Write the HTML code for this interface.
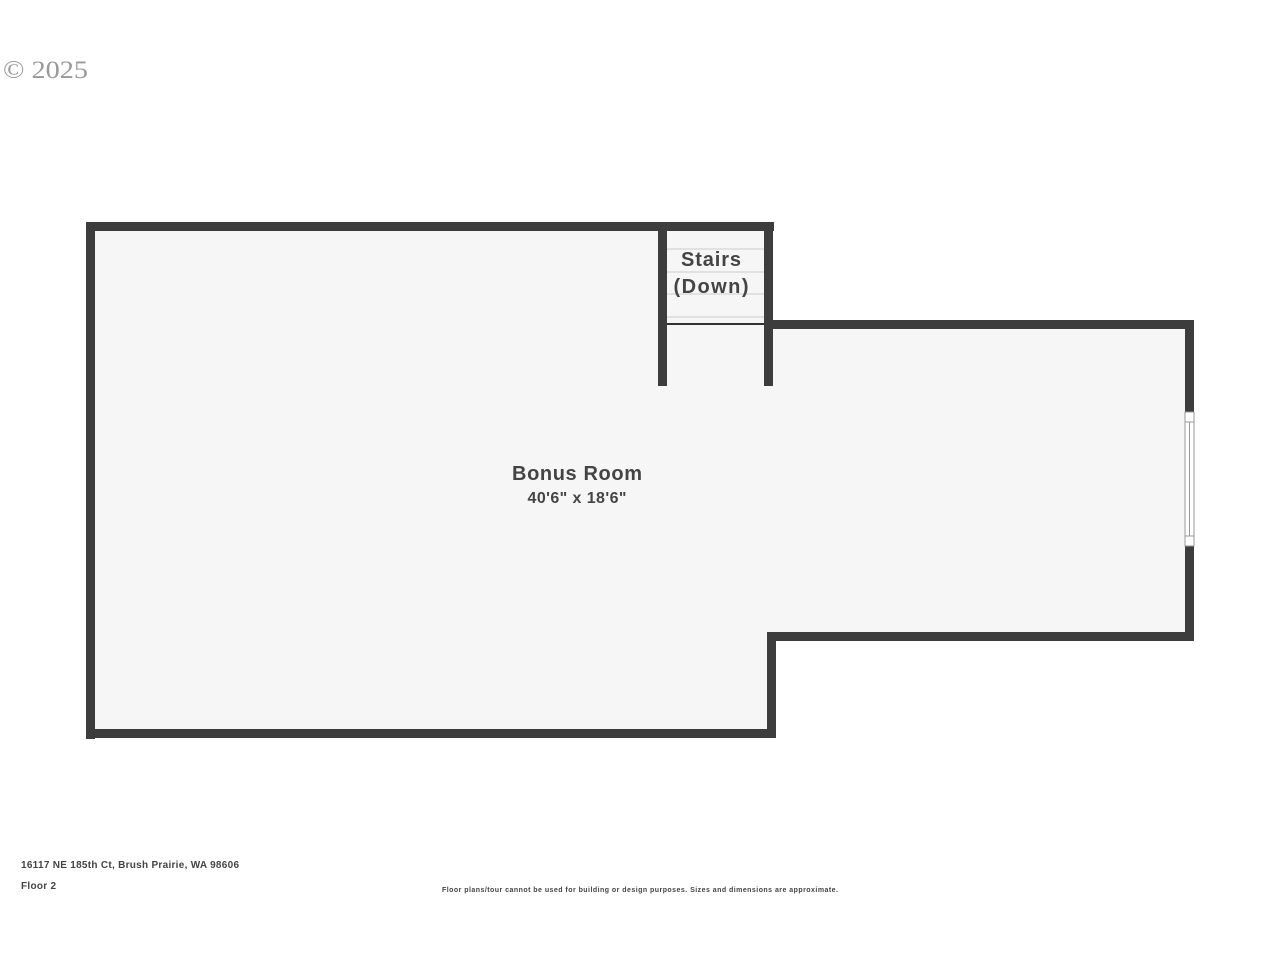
<!DOCTYPE html>
<html><head><style>body{margin:0;background:#fff;}svg{display:block}</style></head>
<body>
<svg width="1280" height="960" xmlns="http://www.w3.org/2000/svg" font-family="Liberation Sans, sans-serif">
<rect width="1280" height="960" fill="#fff"/>
<text x="3" y="78" font-size="25" fill="#999" font-family="Liberation Serif, serif" textLength="85" lengthAdjust="spacingAndGlyphs">© 2025</text>
<polygon points="90,226 769,226 769,324 1190,324 1190,636 772,636 772,734 90,734" fill="#f6f6f6"/>
<g stroke="#ccc" stroke-width="1">
<line x1="667" y1="249" x2="764" y2="249"/>
<line x1="667" y1="272" x2="764" y2="272"/>
<line x1="667" y1="294" x2="764" y2="294"/>
<line x1="667" y1="317" x2="764" y2="317"/>
</g>
<line x1="667" y1="324" x2="764" y2="324" stroke="#333" stroke-width="2"/>
<g fill="#3d3d3d">
<rect x="86" y="222" width="688" height="9"/>
<rect x="86" y="222" width="9" height="517"/>
<rect x="86" y="729" width="690" height="9"/>
<rect x="767" y="632" width="9" height="106"/>
<rect x="767" y="632" width="427" height="9"/>
<rect x="1185" y="320" width="9" height="321"/>
<rect x="764" y="320" width="430" height="9"/>
<rect x="658" y="222" width="9" height="164"/>
<rect x="764" y="222" width="9" height="164"/>
</g>
<rect x="1185" y="412" width="9" height="134" fill="#fff" stroke="#999" stroke-width="1"/>
<line x1="1189.5" y1="422" x2="1189.5" y2="536" stroke="#999"/>
<line x1="1185" y1="422" x2="1194" y2="422" stroke="#999"/>
<line x1="1185" y1="536" x2="1194" y2="536" stroke="#999"/>
<text x="711" y="266" font-size="20" font-weight="bold" fill="#444" text-anchor="middle" textLength="60">Stairs</text>
<text x="711" y="293" font-size="20" font-weight="bold" fill="#444" text-anchor="middle" textLength="75">(Down)</text>
<text x="577" y="480" font-size="20" font-weight="bold" fill="#444" text-anchor="middle" textLength="130">Bonus Room</text>
<text x="577" y="503" font-size="16" font-weight="bold" fill="#444" text-anchor="middle" textLength="99">40'6" x 18'6"</text>
<text x="21" y="868" font-size="10" font-weight="bold" fill="#444" textLength="218">16117 NE 185th Ct, Brush Prairie, WA 98606</text>
<text x="21" y="889" font-size="10" font-weight="bold" fill="#444" textLength="35">Floor 2</text>
<text x="442" y="892" font-size="7" font-weight="bold" fill="#444" textLength="396">Floor plans/tour cannot be used for building or design purposes. Sizes and dimensions are approximate.</text>
</svg>
</body></html>
